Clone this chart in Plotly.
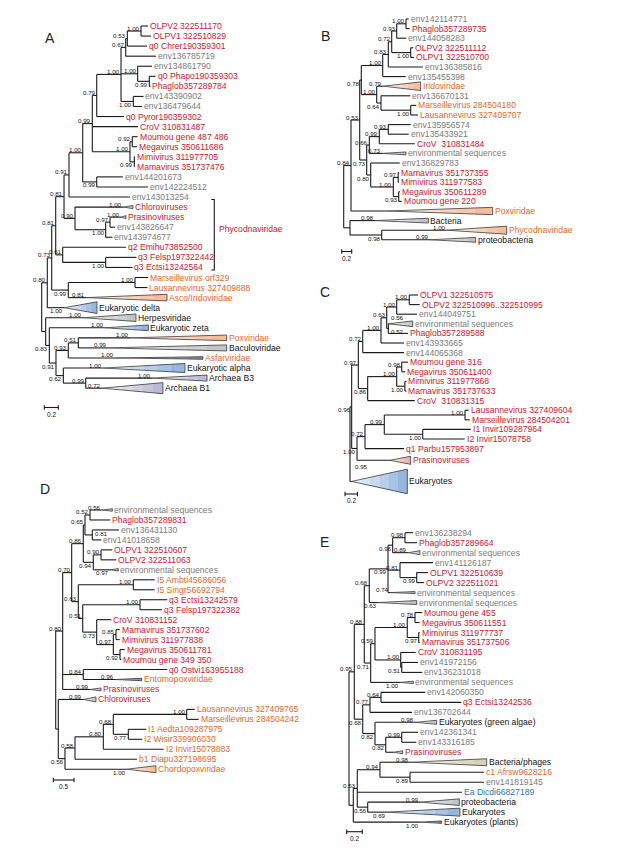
import plotly.graph_objects as go


def N(dist, support, kids):
    return {"d": dist, "s": support, "kids": kids}


def L(dist, idx):
    return {"d": dist, "leaf": idx}

# ------------------------------------------------------------------ DATA
# distances from the root (substitutions/site), support values, leaf labels
# collapsed clades: leaf index -> (support, triangle length, half-width in rows, fill group)

A_labels = ["OLPV2 322511170", "OLPV1 322510829", "q0 Chrer190359301", "env136785719", "env134861790",
            "q0 Phapo190359303", "Phaglob357289784", "env143390902", "env136479644", "q0 Pyror190359302",
            "CroV 310831487", "Moumou gene 487 486", "Megavirus 350611686", "Mimivirus 311977705",
            "Mamavirus 351737476", "env144201673", "env142224512", "env143013254", "Chloroviruses",
            "Prasinoviruses", "env143826647", "env143974677", "q2 Emihu73852500", "q3 Felsp197322442",
            "q3 Ectsi13242564", "Marseillevirus orf329", "Lausannevirus 327409888", "Asco/Iridoviridae",
            "Eukaryotic delta", "Herpesviridae", "Eukaryotic zeta", "Poxviridae", "Baculoviridae",
            "Asfarviridae", "Eukaryotic alpha", "Archaea B3", "Archaea B1"]
A_groups = list("rrrggrrggrrrrrrgggrrggrrroookkkokokkk")
A_clades = {18: ("1.00", 0.143, 0.15, "g"), 19: ("1.00", 0.071, 0.15, "g"), 27: ("0.81", 1.153, 0.33, "o"),
            28: ("1.00", 0.467, 0.58, "b"), 29: ("1.00", 0.757, 0.37, "g"), 30: ("1.00", 0.619, 0.28, "b"),
            31: ("1.00", 1.381, 0.28, "o"), 32: ("0.99", 1.696, 0.30, "g"), 33: ("1.00", 1.257, 0.12, "d"),
            34: ("1.00", 1.171, 0.45, "b"), 35: ("1.00", 0.786, 0.30, "l"), 36: ("0.72", 0.871, 0.55, "l")}
A_rows = {}
A_bracket = ("Phycodnaviridae", 18, 24)
A_tree = N(0, "", [
    N(0.080, "0.80", [
        N(0.143, "0.73", [
            N(0.200, "0.81", [
                N(0.319, "0.81", [
                    N(0.390, "0.91", [
                        N(0.586, "1.00", [
                            N(0.723, "0.99", [
                                N(0.786, "0.79", [
                                    N(1.133, "1.00", [
                                        N(1.200, "0.67", [
                                            N(1.223, "0.53", [
                                                N(1.419, "1.00", [L(1.519, 0), L(1.561, 1)]),
                                                L(1.504, 2)]),
                                            L(1.633, 3)]),
                                        N(1.371, "1.00", [L(1.576, 4), N(1.537, "0.99", [L(1.626, 5), L(1.554, 6)])]),
                                        N(1.309, "1.00", [L(1.454, 7), L(1.433, 8)])]),
                                    L(1.176, 9)]),
                                L(1.376, 10),
                                N(1.261, "1.00", [N(1.294, "0.92", [L(1.369, 11), L(1.361, 12)]),
                                                  N(1.323, "0.99", [L(1.333, 13), L(1.326, 14)])])]),
                            N(0.786, "0.99", [L(1.161, 15), L(1.519, 16)])]),
                        L(1.261, 17)]),
                    N(0.476, "0.90", [L(1.161, 18),
                                      N(0.914, "1.00", [N(0.976, "0.97", [L(1.133, 19), L(1.047, 20)]), L(1.011, 21)])])]),
                N(0.300, "0.61", [L(1.204, 22), N(0.914, "1.00", [L(1.354, 23), L(1.297, 24)])])]),
            N(0.380, "0.99", [N(1.333, "1.00", [L(1.519, 25), L(1.511, 26)]), L(0.637, 27)])]),
        L(0.323, 28)]),
    N(0.057, "", [
        L(0.590, 29),
        N(0.109, "0.83", [
            L(0.904, 30),
            N(0.204, "0.91", [
                N(0.380, "0.93", [N(0.523, "0.51", [L(1.261, 31), L(0.947, 32)]), L(1.047, 33)]),
                N(0.309, "0.62", [L(0.876, 34), N(0.629, "0.99", [L(1.576, 35), L(0.861, 36)])])])])])])

B_labels = ["env142114771", "Phaglob357289735", "env144058283", "OLPV2 322511112", "OLPV1 322510700",
            "env136385816", "env135455398", "Iridoviridae", "env136670131", "Marseillevirus 284504180",
            "Lausannevirus 327409707", "env135956574", "env135433921", "CroV  310831484",
            "environmental sequences", "env136829783", "Mamavirus 351737355", "Mimivirus 311977583",
            "Megavirus 350611289", "Moumou gene 220", "Poxviridae", "Bacteria", "Phycodnaviridae",
            "proteobacteria"]
B_groups = list("grgrrggogooggrggrrrrokok")
B_clades = {7: ("0.79", 0.748, 0.45, "o"), 14: ("0.73", 0.48, 0.15, "g"), 20: ("", 2.12, 0.38, "o"),
            21: ("0.98", 1.066, 0.25, "g"), 22: ("1.00", 1.2, 0.42, "o"), 23: ("0.99", 0.914, 0.25, "g")}
B_rows = {}
B_tree = N(0, "", [
    N(0.146, "0.84", [
        N(0.32, "0.53", [
            N(0.352, "0.78", [
                N(0.78, "1.00", [
                    N(0.892, "0.83", [
                        N(0.96, "0.72", [
                            N(1.06, "0.93", [N(1.246, "1.00", [L(1.3, 0), L(1.32, 1)]), L(1.252, 2)]),
                            N(1.34, "1.00", [L(1.392, 3), L(1.406, 4)])]),
                        L(1.586, 5)]),
                    L(1.24, 6)]),
                N(0.66, "1.00", [L(0.792, 7),
                                 N(0.746, "0.64", [L(1.332, 8), N(1.34, "1.00", [L(1.452, 9), L(1.486, 10)])])])]),
            N(0.46, "0.73", [
                N(0.512, "0.66", [N(0.712, "0.99", [N(0.892, "0.93", [L(1.34, 11), L(1.3, 12)]), L(1.42, 13)]),
                                  L(0.766, 14)]),
                N(0.54, "0.80", [L(1.12, 15),
                                 N(0.992, "1.00", [N(1.09, "0.97", [L(1.106, 16), L(1.106, 17)]),
                                                   N(1.1, "0.93", [L(1.126, 18), L(1.16, 19)])])])])]),
        L(0.86, 20)]),
    N(0.126, "", [L(0.626, 21), N(0.76, "0.98", [L(2.06, 22), L(1.726, 23)])])])

C_labels = ["OLPV1 322510575", "OLPV2 322510996..322510995", "env144049751", "environmental sequences",
            "Phaglob357289588", "env143933665", "env144065368", "Moumou gene 316", "Megavirus 350611400",
            "Mimivirus 311977868", "Mamavirus 351737633", "CroV  310831315", "Lausannevirus 327409604",
            "Marseillevirus 284504201", "I1 Invir109287964", "I2 Invir15078758", "q1 Parbu157953897",
            "Prasinoviruses", "Eukaryotes"]
C_groups = list("rrggrggrrrrrrrrrrrk")
C_clades = {3: ("0.56", 0.394, 0.30, "g"), 17: ("", 0.334, 0.42, "p"), 18: ("0.95", 0.897, 1.28, "b")}
C_rows = {17: 1.44, 18: 2.96}
C_tree = N(0, "", [
    N(0.027, "0.96", [
        N(0.134, "0.97", [
            N(0.205, "0.72", [
                N(0.5, "1.00", [
                    N(0.592, "0.63", [
                        N(0.753, "1.00", [N(0.956, "1.00", [L(1.097, 0), L(1.124, 1)]), L(1.081, 2)]),
                        N(0.618, "0.52", [L(0.618, 3), L(0.935, 4)])]),
                    L(0.871, 5)]),
                L(0.871, 6)]),
            N(0.285, "0.86", [
                N(0.753, "1.00", [N(0.834, "0.98", [L(0.935, 7), L(0.892, 8)]),
                                  N(0.885, "1.00", [L(0.911, 9), L(0.911, 10)])]),
                L(1.044, 11)])]),
        N(0.113, "1.00", [
            N(0.242, "0.72", [
                N(0.553, "0.99", [N(1.855, "1.00", [L(1.915, 12), L(1.931, 13)]),
                                  N(1.173, "1.00", [L(1.947, 14), L(1.85, 15)])]),
                L(0.871, 16)]),
            L(0.645, 17)])]),
    L(0.027, 18)])

D_labels = ["environmental sequences", "Phaglob357289831", "env136431130", "env141018658", "OLPV1 322510607",
            "OLPV2 322511063", "environmental sequences", "I5 Ambti45686056", "I5 Singr56692794",
            "q3 Ectsi13242579", "q3 Felsp197322382", "CroV 310831152", "Mamavirus 351737602",
            "Mimivirus 311977838", "Megavirus 350611781", "Moumou gene 349 350", "q0 Ostvi163955188",
            "Entomopoxviridae", "Prasinoviruses", "Chloroviruses", "Lausannevirus 327409765",
            "Marseillevirus 284504242", "I1 Aedta109287975", "I2 Wisir339906030", "I2 Invir15078883",
            "b1 Diapu327198695", "Chordopoxviridae"]
D_groups = list("grggrrgoorrrrrrrrorrooooooo")
D_clades = {0: ("0.56", 0.257, 0.12, "g"), 6: ("0.97", 0.2, 0.12, "g"), 17: ("0.96", 0.646, 0.12, "d"),
            18: ("0.99", 0.266, 0.15, "g"), 19: ("0.99", 0.308, 0.25, "g"), 26: ("1.00", 0.709, 0.35, "o")}
D_rows = {}
D_tree = N(0, "", [
    N(0.169, "0.80", [
        N(0.387, "0.70", [
            N(0.668, "0.86", [
                N(0.709, "0.65", [
                    N(0.831, "0.52", [L(1.114, 0), L(1.322, 1)]),
                    N(0.886, "0.81", [L(1.533, 2), L(1.104, 3)])]),
                N(0.91, "0.94", [N(1.097, "0.90", [L(1.371, 4), L(1.467, 5)]), L(1.315, 6)])]),
            N(0.547, "0.63", [
                N(1.879, "1.00", [L(2.397, 7), L(2.397, 8)]),
                N(0.654, "0.51", [
                    N(2.041, "1.00", [L(2.702, 9), L(2.574, 10)]),
                    N(0.993, "0.73", [L(1.346, 11),
                                      N(1.395, "0.97", [N(1.46, "0.85", [L(1.55, 12), L(1.55, 13)]),
                                                        N(1.557, "0.92", [L(1.671, 14), L(1.588, 15)])])])])])]),
        N(0.668, "0.84", [L(2.702, 16), L(1.436, 17)]),
        L(0.831, 18)]),
    N(0.063, "", [
        L(0.668, 19),
        N(0.225, "0.56", [
            N(0.467, "0.58", [
                N(1.153, "0.80", [N(1.395, "0.68", [N(3.172, "1.00", [L(3.366, 20), L(3.462, 21)]),
                                                    N(1.758, "0.77", [L(2.194, 22), L(2.097, 23)])]),
                                  L(2.615, 24)]),
                L(1.969, 25)]),
            L(1.719, 26)])])])

E_labels = ["env136238294", "Phaglob357289664", "environmental sequences", "env141126187", "OLPV1 322510639",
            "OLPV2 322511021", "environmental sequences", "environmental sequences", "Moumou gene 455",
            "Megavirus 350611551", "Mimivirus 311977737", "Mamavirus 351737506", "CroV 310831195",
            "env141972156", "env136231018", "environmental sequences", "env142060350", "q3 Ectsi13242536",
            "env136702644", "Eukaryotes (green algae)", "env142361341", "env143316185", "Prasinoviruses",
            "Bacteria/phages", "c1 Afrsw9628216", "env141819145", "Ea Dicdi66827189", "proteobacteria",
            "Eukaryotes", "Eukaryotes (plants)"]
E_groups = list("grggrrggrrrrrggggrgkggrkogbkkk")
E_clades = {2: ("0.89", 0.15, 0.2, "g"), 6: ("0.74", 0.321, 0.1, "g"), 7: ("0.63", 0.492, 0.2, "g"),
            15: ("1.00", 0.171, 0.12, "g"), 19: ("0.98", 0.278, 0.2, "g"), 22: ("", 0.12, 0.15, "g"),
            23: ("0.98", 0.983, 0.35, "t"), 27: ("0.99", 0.504, 0.33, "g"), 28: ("0.69", 0.94, 0.4, "b"),
            29: ("1.00", 0.278, 0.12, "d")}
E_rows = {}
E_tree = N(0, "", [
    N(0.068, "0.95", [
        N(0.196, "0.88", [
            N(0.26, "0.68", [
                N(0.5, "0.99", [
                    N(0.56, "0.96", [N(0.718, "0.98", [L(0.821, 0), L(0.872, 1)]), L(0.76, 2)]),
                    N(0.654, "0.81", [L(1.077, 3), N(0.868, "0.99", [L(1.013, 4), L(0.962, 5)])]),
                    L(0.526, 6)]),
                L(0.376, 7)]),
            N(0.278, "0.71", [
                N(0.333, "0.59", [
                    N(0.747, "1.00", [N(0.846, "0.78", [L(0.94, 8), L(0.906, 9)]),
                                      N(0.894, "0.97", [L(0.906, 10), L(0.906, 11)])]),
                    N(0.663, "1.00", [L(0.855, 12), N(0.676, "0.51", [L(0.885, 13), L(0.94, 14)])])]),
                L(0.654, 15)])]),
        N(0.176, "0.68", [
            N(0.269, "0.77", [N(0.41, "0.64", [L(0.978, 16), L(1.44, 17)]), L(0.808, 18)]),
            N(0.333, "0.82", [L(0.846, 19),
                              N(0.471, "0.82", [N(0.676, "0.99", [L(0.885, 20), L(0.863, 21)]), L(0.568, 22)])])])]),
    N(0.055, "", [
        N(0.106, "0.53", [
            N(0.397, "0.94", [L(0.782, 23), N(0.782, "0.89", [L(1.731, 24), L(1.731, 25)])]),
            L(1.449, 26),
            N(0.24, "0.56", [L(0.91, 27), L(0.483, 28)])]),
        L(0.91, 29)])])

# ------------------------------------------------------------------ LAYOUT / STYLE
W, H = 622, 854
FONT = "Liberation Sans, Arial, sans-serif"
TEXT_COL = {"r": "#c8192e", "o": "#e0692a", "g": "#7b7b7b", "k": "#141414", "b": "#2c6fb7"}
FILL_COL = {"o": (242, 184, 150), "b": (142, 176, 220), "g": (190, 190, 197), "l": (180, 180, 211),
            "p": (233, 170, 160), "t": (207, 205, 176), "d": (138, 138, 138)}
LINE_COL = "#1a1a1a"
STRIPS = 6
CLADE_LABEL_RIGHT = {"C": {3, 18}}
# supports drawn under the branch (keyed by first/last leaf of the node)
SUPPORT_BELOW = {
    "A": {(28, 28), (34, 36), (31, 36), (30, 36), (25, 27), (19, 21), (7, 8), (13, 14), (5, 6), (23, 24),
          (15, 16)},
    "B": {(3, 4), (8, 10), (9, 10), (15, 19), (18, 19), (0, 10), (11, 19), (22, 23)},
    "C": {(3, 4), (9, 10), (7, 11), (14, 15), (12, 17), (0, 17)},
    "D": {(4, 6), (6, 6), (11, 15), (14, 15), (22, 23), (20, 26), (26, 26)},
    "E": {(4, 5), (7, 7), (10, 11), (13, 14), (8, 15), (15, 15), (20, 22), (19, 22), (16, 22), (24, 25),
          (27, 28), (28, 28), (29, 29), (0, 2), (0, 6)},
}
# supports written to the right of their node
SUPPORT_RIGHT = {"C": {(3, 4)}, "D": {(2, 3)}}

PANELS = [
    dict(letter="A", tree=A_tree, labels=A_labels, groups=A_groups, clades=A_clades, rows=A_rows,
         root=41.7, ppu=70.0, y0=26.0, sp=10.06, scale=0.2, scale_at=(44.3, 407.5), letter_at=(50, 38)),
    dict(letter="B", tree=B_tree, labels=B_labels, groups=B_groups, clades=B_clades, rows=B_rows,
         root=343.7, ppu=50.0, y0=19.0, sp=9.6, scale=0.2, scale_at=(341.7, 251.5), letter_at=(325, 36)),
    dict(letter="C", tree=C_tree, labels=C_labels, groups=C_groups, clades=C_clades, rows=C_rows,
         root=350.0, ppu=62.0, y0=295.0, sp=9.6, scale=0.2, scale_at=(345.0, 494.0), letter_at=(325, 292)),
    dict(letter="D", tree=D_tree, labels=D_labels, groups=D_groups, clades=D_clades, rows=D_rows,
         root=55.7, ppu=41.3, y0=510.0, sp=9.97, scale=0.5, scale_at=(53.3, 780.0), letter_at=(45, 489)),
    dict(letter="E", tree=E_tree, labels=E_labels, groups=E_groups, clades=E_clades, rows=E_rows,
         root=349.0, ppu=78.0, y0=532.7, sp=9.98, scale=0.2, scale_at=(346.7, 831.7), letter_at=(324, 542)),
]


def mix(rgb, t):
    r, g, b = (round(255 + (c - 255) * t) for c in rgb)
    return "rgb(%d,%d,%d)" % (r, g, b)


fig = go.Figure()
annotations = []
layout_axes = {}

for n, P in enumerate(PANELS, start=1):
    sfx = "" if n == 1 else str(n)
    xref, yref = "x" + sfx, "y" + sfx
    root, ppu, y0, sp = P["root"], P["ppu"], P["y0"], P["sp"]
    layout_axes["xaxis" + sfx] = dict(domain=[0, 1], range=[-root / ppu, (W - root) / ppu], visible=False,
                                      fixedrange=True, anchor=yref)
    layout_axes["yaxis" + sfx] = dict(domain=[0, 1], range=[(H - y0) / sp, -y0 / sp], visible=False,
                                      fixedrange=True, anchor=xref)
    right_set = CLADE_LABEL_RIGHT.get(P["letter"], set())
    below_set = SUPPORT_BELOW.get(P["letter"], set())
    sright_set = SUPPORT_RIGHT.get(P["letter"], set())

    cursor = [0.0]

    def place(node):
        if "leaf" in node:
            r = P["rows"].get(node["leaf"], 1.0)
            node["y"] = cursor[0] + (r - 1.0) / 2.0
            cursor[0] += r
            node["lo"] = node["hi"] = node["leaf"]
        else:
            for k in node["kids"]:
                place(k)
            node["y"] = (node["kids"][0]["y"] + node["kids"][-1]["y"]) / 2.0
            node["lo"], node["hi"] = node["kids"][0]["lo"], node["kids"][-1]["hi"]

    place(P["tree"])

    lx, ly = [], []
    ox, oy = [], []
    strips = {}
    sup_font = dict(size=6.2, color="#111", family=FONT)

    def support(x, y, text, key):
        if key in sright_set and key not in below_set:
            annotations.append(dict(x=x, y=y, xref=xref, yref=yref, text=text, showarrow=False,
                                    xanchor="left", yanchor="middle", yshift=1, xshift=1, font=sup_font))
            return
        xa = "left" if key in sright_set else "right"
        if key in below_set:
            annotations.append(dict(x=x, y=y, xref=xref, yref=yref, text=text, showarrow=False,
                                    xanchor=xa, yanchor="top", yshift=2.5, xshift=1, font=sup_font))
        else:
            annotations.append(dict(x=x, y=y, xref=xref, yref=yref, text=text, showarrow=False,
                                    xanchor=xa, yanchor="bottom", yshift=-2.5, xshift=1, font=sup_font))

    def draw(node):
        if "leaf" in node:
            i = node["leaf"]
            x0, y = node["d"], node["y"]
            x_end = x0
            if i in P["clades"]:
                s, ln, hh, fc = P["clades"][i]
                for j in range(STRIPS):
                    t0 = j / STRIPS
                    sx_, sy_ = strips.setdefault((fc, j), ([], []))
                    sx_ += [x0 + t0 * ln, x0 + ln, x0 + ln, x0 + t0 * ln, x0 + t0 * ln, None]
                    sy_ += [y - hh * t0, y - hh, y + hh, y + hh * t0, y - hh * t0, None]
                ox.extend([x0, x0 + ln, x0 + ln, x0, None])
                oy.extend([y, y - hh, y + hh, y, None])
                x_end = x0 + ln
                if s:
                    if i in right_set:
                        annotations.append(dict(x=x0, y=y - hh, xref=xref, yref=yref, text=s,
                                                showarrow=False, xanchor="left", yanchor="bottom",
                                                yshift=-2.5, xshift=1, font=sup_font))
                    else:
                        support(x0, y, s, (i, i))
            annotations.append(dict(x=x_end, y=y, xref=xref, yref=yref, text=P["labels"][i],
                                    showarrow=False, xanchor="left", yanchor="middle", xshift=0,
                                    font=dict(size=8.6, color=TEXT_COL[P["groups"][i]], family=FONT)))
            return
        ys = [k["y"] for k in node["kids"]]
        lx.extend([node["d"], node["d"], None])
        ly.extend([min(ys), max(ys), None])
        for k in node["kids"]:
            lx.extend([node["d"], k["d"], None])
            ly.extend([k["y"], k["y"], None])
            draw(k)
        if node["s"]:
            support(node["d"], node["y"], node["s"], (node["lo"], node["hi"]))

    draw(P["tree"])

    # scale bar
    sx = (P["scale_at"][0] - root) / ppu
    sy = (P["scale_at"][1] - y0) / sp
    tick = 2.2 / sp
    lx.extend([sx, sx + P["scale"], None, sx, sx, None, sx + P["scale"], sx + P["scale"], None])
    ly.extend([sy, sy, None, sy - tick, sy + tick, None, sy - tick, sy + tick, None])
    annotations.append(dict(x=sx + P["scale"] / 2, y=sy, xref=xref, yref=yref, text=str(P["scale"]),
                            showarrow=False, xanchor="center", yanchor="top", yshift=-1,
                            font=dict(size=6.5, color="#111", family=FONT)))

    # Phycodnaviridae bracket (panel A)
    if P["letter"] == "A":
        name, r0, r1 = A_bracket
        bx = (214.3 - root) / ppu
        btop, bbot = r0 - 0.75, r1 + 0.25
        lx.extend([bx - 3.0 / ppu, bx, bx, bx - 3.0 / ppu, None])
        ly.extend([btop, btop, bbot, bbot, None])
        annotations.append(dict(x=bx, y=(btop + bbot) / 2 - 0.6, xref=xref, yref=yref, text=name,
                                showarrow=False, xanchor="left", yanchor="middle", xshift=3,
                                font=dict(size=8.6, color=TEXT_COL["r"], family=FONT)))

    for (fc, j), (tx, ty) in sorted(strips.items(), key=lambda kv: kv[0][1]):
        shade = 0.1 + 0.9 * (j + 0.5) / STRIPS
        col = mix(FILL_COL[fc], shade)
        fig.add_trace(go.Scatter(x=tx, y=ty, mode="lines", fill="toself", fillcolor=col,
                                 line=dict(width=0), xaxis=xref, yaxis=yref,
                                 hoverinfo="skip", showlegend=False))
    fig.add_trace(go.Scatter(x=ox, y=oy, mode="lines", line=dict(color="#3c3c3c", width=0.8),
                             xaxis=xref, yaxis=yref, hoverinfo="skip", showlegend=False))
    fig.add_trace(go.Scatter(x=lx, y=ly, mode="lines", line=dict(color=LINE_COL, width=1.1),
                             xaxis=xref, yaxis=yref, hoverinfo="skip", showlegend=False))

    annotations.append(dict(x=P["letter_at"][0] / W, y=1 - P["letter_at"][1] / H, xref="paper",
                            yref="paper", text=P["letter"], showarrow=False, xanchor="center",
                            yanchor="middle", font=dict(size=14, color="#222", family=FONT)))

fig.update_layout(width=W, height=H, margin=dict(l=0, r=0, t=0, b=0), paper_bgcolor="white",
                  plot_bgcolor="rgba(0,0,0,0)", showlegend=False, annotations=annotations, **layout_axes)

fig.write_html("out.html", config={"displayModeBar": False, "staticPlot": True},
               post_script="document.body.style.margin='0';document.body.style.overflow='hidden';")
